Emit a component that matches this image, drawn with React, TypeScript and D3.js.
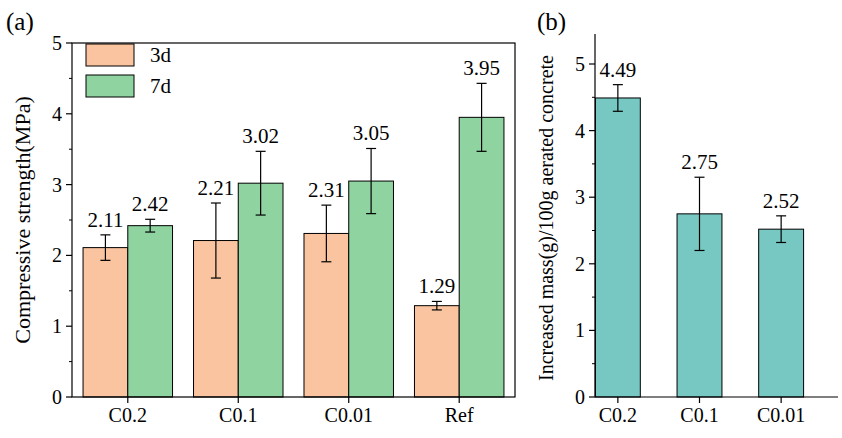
import React from 'react';
import * as d3 from 'd3';

const catsA = ['C0.2', 'C0.1', 'C0.01', 'Ref'];
const val3d = [2.11, 2.21, 2.31, 1.29];
const err3d = [0.18, 0.53, 0.4, 0.06];
const val7d = [2.42, 3.02, 3.05, 3.95];
const err7d = [0.09, 0.45, 0.46, 0.48];
const catsB = ['C0.2', 'C0.1', 'C0.01'];
const valB = [4.49, 2.75, 2.52];
const errB = [0.2, 0.55, 0.2];
const ticks = [0, 1, 2, 3, 4, 5];

const font = '"Liberation Serif", "Times New Roman", serif';
const C3 = '#f9c49f', C7 = '#8fd3a1', CB = '#77c8c2';

function ErrBar({ x, y0, y1 }: { x: number; y0: number; y1: number }) {
  return (
    <g stroke="#000" strokeWidth={1.2}>
      <line x1={x} x2={x} y1={y0} y2={y1} />
      <line x1={x - 5} x2={x + 5} y1={y0} y2={y0} />
      <line x1={x - 5} x2={x + 5} y1={y1} y2={y1} />
    </g>
  );
}

function YTicks({ x0, y }: { x0: number; y: d3.ScaleLinear<number, number> }) {
  return (
    <g>
      {ticks.map(t => (
        <g key={t}>
          <line x1={x0} x2={x0 - 6} y1={y(t)} y2={y(t)} stroke="#000" strokeWidth={1.2} />
          {t < 5 && <line x1={x0} x2={x0 - 3} y1={y(t + 0.5)} y2={y(t + 0.5)} stroke="#000" strokeWidth={1} />}
          <text x={x0 - 10} y={y(t)} dy="0.35em" textAnchor="end" fontSize={20}>{t}</text>
        </g>
      ))}
    </g>
  );
}

export default function App() {
  const yA = d3.scaleLinear().domain([0, 5]).range([397, 43]);
  const xA = d3.scaleBand().domain(catsA).range([72, 515]).paddingInner(0.19).paddingOuter(0.1);
  const bwA = xA.bandwidth() / 2;
  const yB = d3.scaleLinear().domain([0, 5]).range([397, 64]);
  const xB = d3.scaleBand().domain(catsB).range([575, 824]).paddingInner(0.45).paddingOuter(0.25);
  const aLeft = 72, aRight = 515, bLeft = 595, bRight = 838;
  return (
    <svg width={842} height={438} style={{ position: 'absolute', left: 0, top: 0 }} fontFamily={font}>
      <rect width={842} height={438} fill="#fff" />
      {/* panel a */}
      {catsA.map((c, i) => {
        const x = xA(c)!;
        return (
          <g key={c}>
            <rect x={x} y={yA(val3d[i])} width={bwA} height={yA(0) - yA(val3d[i])} fill={C3} stroke="#000" strokeWidth={1} />
            <rect x={x + bwA} y={yA(val7d[i])} width={bwA} height={yA(0) - yA(val7d[i])} fill={C7} stroke="#000" strokeWidth={1} />
            <ErrBar x={x + bwA / 2} y0={yA(val3d[i] + err3d[i])} y1={yA(val3d[i] - err3d[i])} />
            <ErrBar x={x + bwA * 1.5} y0={yA(val7d[i] + err7d[i])} y1={yA(val7d[i] - err7d[i])} />
            <text x={x + bwA / 2} y={yA(val3d[i] + err3d[i]) - 8} textAnchor="middle" fontSize={21}>{val3d[i].toFixed(2)}</text>
            <text x={x + bwA * 1.5} y={yA(val7d[i] + err7d[i]) - 8} textAnchor="middle" fontSize={21}>{val7d[i].toFixed(2)}</text>
            <line x1={x + bwA} x2={x + bwA} y1={397} y2={403} stroke="#000" strokeWidth={1.2} />
            <text x={x + bwA} y={422} textAnchor="middle" fontSize={20}>{c}</text>
          </g>
        );
      })}
      <YTicks x0={aLeft} y={yA} />
      <rect x={aLeft} y={43} width={aRight - aLeft} height={354} fill="none" stroke="#000" strokeWidth={1.2} />
      <rect x={86} y={44} width={48} height={22} fill={C3} stroke="#000" />
      <text x={150} y={62} fontSize={21}>3d</text>
      <rect x={86} y={75} width={48} height={22} fill={C7} stroke="#000" />
      <text x={150} y={93} fontSize={21}>7d</text>
      <text transform="translate(30,220) rotate(-90)" textAnchor="middle" fontSize={22}>Compressive strength(MPa)</text>
      <text x={6} y={30} fontSize={25}>(a)</text>
      {/* panel b */}
      {catsB.map((c, i) => {
        const x = xB(c)!, w = xB.bandwidth();
        return (
          <g key={c}>
            <rect x={x} y={yB(valB[i])} width={w} height={yB(0) - yB(valB[i])} fill={CB} stroke="#000" strokeWidth={1} />
            <ErrBar x={x + w / 2} y0={yB(valB[i] + errB[i])} y1={yB(valB[i] - errB[i])} />
            <text x={x + w / 2} y={yB(valB[i] + errB[i]) - 8} textAnchor="middle" fontSize={21}>{valB[i].toFixed(2)}</text>
            <line x1={x + w / 2} x2={x + w / 2} y1={397} y2={403} stroke="#000" strokeWidth={1.2} />
            <text x={x + w / 2} y={422} textAnchor="middle" fontSize={20}>{c}</text>
          </g>
        );
      })}
      <line x1={bLeft} x2={bRight} y1={397} y2={397} stroke="#000" strokeWidth={1.2} />
      <line x1={bLeft} x2={bLeft} y1={34} y2={397} stroke="#000" strokeWidth={1.2} />
      <YTicks x0={bLeft} y={yB} />
      <text transform="translate(553,218) rotate(-90)" textAnchor="middle" fontSize={20}>Increased mass(g)/100g aerated concrete</text>
      <text x={537} y={30} fontSize={25}>(b)</text>
    </svg>
  );
}
